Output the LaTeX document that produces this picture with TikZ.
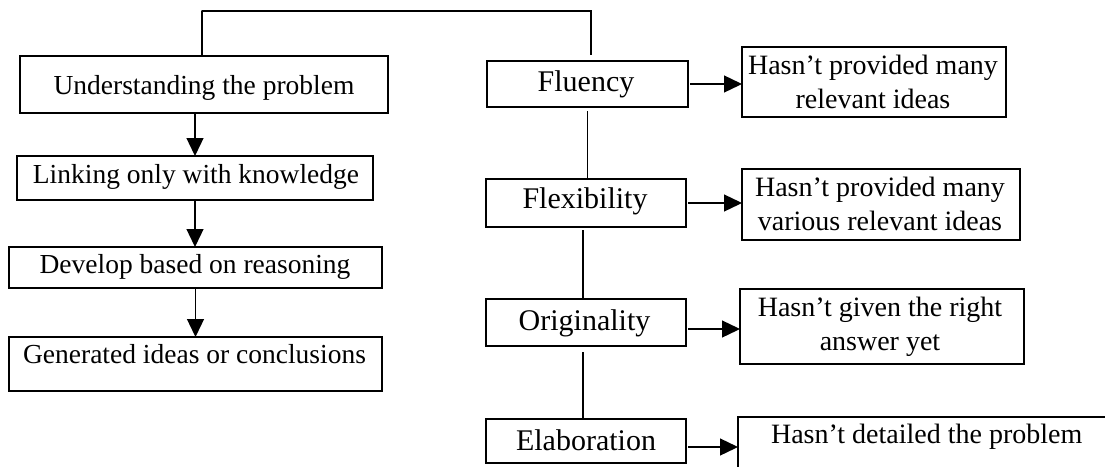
\documentclass[tikz,border=0pt]{standalone}
\usepackage{fontspec}
\setmainfont{Liberation Serif}
\usetikzlibrary{arrows.meta}
\begin{document}
\begin{tikzpicture}[x=1pt,y=-1pt,
  boxnode/.style={draw, line width=2.8pt, inner sep=0pt, outer sep=0pt, rectangle},
  txt/.style={inner sep=0pt, anchor=base, font=\fontsize{27.5}{33}\selectfont},
  bigtxt/.style={inner sep=0pt, anchor=base, font=\fontsize{30}{36}\selectfont},
  two/.style={inner sep=0pt, anchor=base, align=center, font=\fontsize{28}{34}\selectfont},
  conn/.style={line width=1.3pt},
  arr/.style={line width=1.3pt, -{Triangle[length=18pt,width=17pt]}}]
\useasboundingbox (0,0) rectangle (1105,466);
\clip (0,0) rectangle (1105,466);
\fill[white] (0,0) rectangle (1105,466);
% left column boxes
\node[boxnode, minimum width=368, minimum height=57] (u) at (204,84.5) {};
\node[boxnode, minimum width=356, minimum height=44] (l) at (195,178) {};
\node[boxnode, minimum width=373, minimum height=41] (d) at (195.5,267.5) {};
\node[boxnode, minimum width=373, minimum height=54] (g) at (195.5,364) {};
\node[txt] (ut) at (204,94) {Understanding the problem};
\node[txt] (lt) at (196,183) {Linking only with knowledge};
\node[txt] (dt) at (195,273) {Develop based on reasoning};
\node[txt] (gt) at (194.5,363) {Generated ideas or conclusions};
% right column category boxes
\node[boxnode, minimum width=201, minimum height=46] (f) at (587.5,84) {};
\node[boxnode, minimum width=200, minimum height=48] (fx) at (586,203) {};
\node[boxnode, minimum width=200, minimum height=47] (o) at (586,322.5) {};
\node[boxnode, minimum width=200, minimum height=44] (e) at (586,441) {};
\node[bigtxt] (ft) at (586,91) {Fluency};
\node[bigtxt] (fxt) at (585,208) {Flexibility};
\node[bigtxt] (ot) at (584.5,330) {Originality};
\node[bigtxt] (et) at (586,450) {Elaboration};
% result boxes
\node[boxnode, minimum width=264, minimum height=70] (h1) at (874,82) {};
\node[boxnode, minimum width=278, minimum height=71] (h2) at (881,204.5) {};
\node[boxnode, minimum width=284, minimum height=75] (h3) at (882,326.5) {};
\node[boxnode, minimum width=377, minimum height=73] (h4) at (926.5,453.5) {};
\node[two] (h1t) at (873,108) {Hasn't provided many\\relevant ideas};
\node[two] (h2t) at (880,230) {Hasn’t provided many\\various relevant ideas};
\node[two] (h3t) at (880,350) {Hasn't given the right\\answer yet};
\node[txt, font=\fontsize{28}{34}\selectfont] (h4t) at (926.7,443) {Hasn’t detailed the problem};
% left arrows
\draw[arr] (u.south -| l.north) -- (l.north);
\draw[arr] (l.south) -- (l.south |- d.north);
\draw[arr] (d.south) -- (d.south |- g.north);
% top connector
\draw[conn, shorten >=6pt] ([xshift=-2pt]u.north) |- (201.7,11) -| ([xshift=3.5pt]f.north);
% right vertical connectors
\draw[conn, shorten <=4pt] (f.south) -- (f.south |- fx.north);
\draw[conn, shorten <=3pt] ([xshift=-3pt]fx.south) -- ([xshift=-3pt]o.north);
\draw[conn, shorten <=6pt] ([xshift=-3pt]o.south) -- ([xshift=-3pt]e.north);
% horizontal arrows
\draw[arr, shorten <=2pt] (f.east) -- (f.east -| h1.west);
\draw[arr, shorten <=2pt] (fx.east) -- (fx.east -| h2.west);
\draw[arr, shorten <=2pt] ([yshift=-6.5pt]o.east) -- ([yshift=-6.5pt]o.east -| h3.west);
\draw[arr, shorten <=2pt] ([yshift=-6pt]e.east) -- ([yshift=-6pt]e.east -| h4.west);
\end{tikzpicture}
\end{document}
